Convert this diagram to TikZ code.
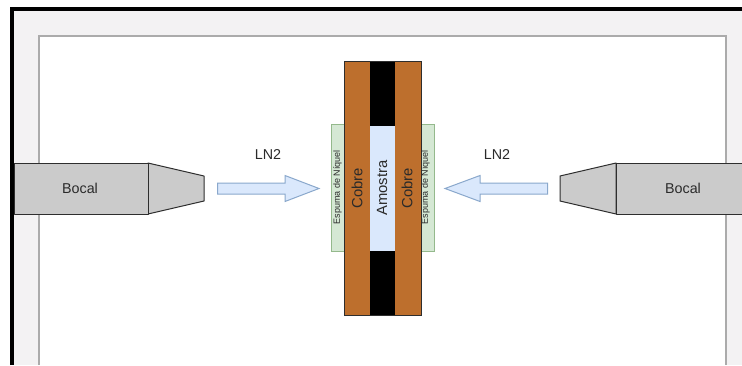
\documentclass[tikz,border=0pt]{standalone}
\usepackage{fontspec}
\setmainfont{Liberation Sans}
\definecolor{panel}{HTML}{F3F2F3}
\definecolor{panelline}{HTML}{ABABAB}
\definecolor{bocalfill}{HTML}{CBCBCB}
\definecolor{bocalline}{HTML}{2E2E2E}
\definecolor{cobre}{HTML}{BD6F2D}
\definecolor{amostra}{HTML}{DAE8FC}
\definecolor{arrowline}{HTML}{8AA8CC}
\definecolor{espuma}{HTML}{D5E8D4}
\definecolor{espumaline}{HTML}{94B98C}
\definecolor{txt}{HTML}{2A2A2A}
\tikzset{
  bocalpart/.style={draw=bocalline,fill=bocalfill,line width=1pt,line join=round},
  flow/.style={draw=arrowline,fill=amostra,line width=1pt,line join=miter},
  espumabox/.style={draw=espumaline,fill=espuma,line width=1pt},
  lbl/.style={text=txt,inner sep=0pt,font=\fontsize{14.3}{16}\selectfont},
  small/.style={text=txt,inner sep=0pt,rotate=90,font=\fontsize{9}{11}\selectfont},
  mid/.style={text=txt,inner sep=0pt,rotate=90,font=\fontsize{14.8}{17}\selectfont}
}
\begin{document}
\begin{tikzpicture}[x=1pt,y=-1pt]
\useasboundingbox (0,0) rectangle (742,365);
% panel
\fill[panel] (12,9) rectangle (742,365);
\fill[white] (39,36) rectangle (726,365);
\draw[panelline,line width=1.2pt] (39,365) -- (39,36) -- (726,36) -- (726,365);
\draw[black,line width=4pt] (12,365) -- (12,9) -- (742,9);
% nozzles
\draw[bocalpart] (148,163) -- (204,176) -- (204,201) -- (148,214) -- cycle;
\node[bocalpart,minimum width=134pt,minimum height=51pt,inner sep=0pt,anchor=north west] (bl) at (14,163) {};
\node[lbl] at (80,188) {Bocal};
\draw[bocalpart] (616,163) -- (560,176) -- (560,201) -- (616,214) -- cycle;
\node[bocalpart,minimum width=128pt,minimum height=51pt,inner sep=0pt,anchor=north west] (br) at (616,163) {};
\node[lbl] at (683,188) {Bocal};
% arrows
\draw[flow] (217.5,183) -- (285,183) -- (285,175.5) -- (319,188.5) -- (285,201.5) -- (285,194) -- (217.5,194) -- cycle;
\draw[flow] (547.5,183) -- (480,183) -- (480,175.5) -- (445,188.5) -- (480,201.5) -- (480,194) -- (547.5,194) -- cycle;
\node[lbl] at (268,154.5) {LN2};
\node[lbl] at (497,154.5) {LN2};
% foam
\node[espumabox,minimum width=13pt,minimum height=127pt,inner sep=0pt] (el) at (337.5,188) {};
\node[espumabox,minimum width=13pt,minimum height=127pt,inner sep=0pt] (er) at (427.5,188) {};
\node[small] at (337.5,187) {Espuma de Níquel};
\node[small] at (425.5,187) {Espuma de Níquel};
% stack
\fill[cobre] (344,61) rectangle (421,315);
\fill[black] (370,61) rectangle (395,315);
\draw[bocalline,line width=0.8pt] (344,61) rectangle (421,315);
\fill[amostra] (370,125.5) rectangle (395,251);
\node[mid] at (357,188) {Cobre};
\node[mid] at (382,188) {Amostra};
\node[mid] at (407,188) {Cobre};
\end{tikzpicture}
\end{document}
